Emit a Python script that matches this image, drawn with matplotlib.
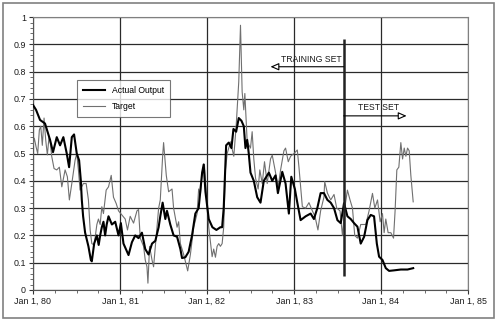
import matplotlib
matplotlib.use("Agg")
import matplotlib.pyplot as plt
from matplotlib.patches import Rectangle
from matplotlib.ticker import MultipleLocator

plt.rcParams["font.family"] = ["Liberation Sans", "DejaVu Sans"]

# Network output, time in years since Jan 1, 1980
actual_t = [0.000, 0.035, 0.081, 0.138, 0.196, 0.230, 0.273, 0.311, 0.349, 0.388,
            0.415, 0.446, 0.472, 0.503, 0.530, 0.550, 0.561, 0.576, 0.599, 0.637,
            0.665, 0.676, 0.703, 0.734, 0.755, 0.772, 0.791, 0.810, 0.829, 0.847,
            0.868, 0.907, 0.945, 0.983, 1.010, 1.040, 1.098, 1.137, 1.175, 1.213,
            1.252, 1.290, 1.328, 1.368, 1.406, 1.444, 1.463, 1.490, 1.521, 1.540,
            1.578, 1.616, 1.656, 1.694, 1.713, 1.751, 1.789, 1.828, 1.866, 1.904,
            1.944, 1.962, 1.982, 2.020, 2.062, 2.108, 2.154, 2.174, 2.192, 2.220,
            2.250, 2.281, 2.304, 2.335, 2.365, 2.396, 2.423, 2.442, 2.462, 2.480,
            2.500, 2.538, 2.577, 2.615, 2.653, 2.711, 2.750, 2.788, 2.815, 2.865,
            2.903, 2.941, 2.969, 3.010, 3.038, 3.076, 3.134, 3.191, 3.229, 3.268,
            3.306, 3.344, 3.384, 3.422, 3.460, 3.499, 3.537, 3.575, 3.614, 3.652,
            3.690, 3.729, 3.767, 3.806, 3.844, 3.882, 3.920, 3.952, 3.978, 4.017,
            4.055, 4.093, 4.151, 4.228, 4.305, 4.370]
actual_v = [0.678, 0.66, 0.623, 0.61, 0.55, 0.505, 0.56, 0.53, 0.56, 0.50,
            0.45, 0.56, 0.57, 0.50, 0.475, 0.40, 0.33, 0.27, 0.21, 0.16,
            0.11, 0.105, 0.17, 0.20, 0.165, 0.20, 0.23, 0.25, 0.20, 0.24,
            0.27, 0.24, 0.25, 0.20, 0.245, 0.17, 0.128, 0.175, 0.20, 0.19,
            0.21, 0.15, 0.13, 0.17, 0.18, 0.23, 0.27, 0.32, 0.26, 0.29,
            0.24, 0.20, 0.195, 0.15, 0.117, 0.12, 0.14, 0.20, 0.28, 0.30,
            0.43, 0.46, 0.36, 0.26, 0.23, 0.22, 0.23, 0.23, 0.30, 0.53,
            0.54, 0.52, 0.59, 0.58, 0.63, 0.62, 0.60, 0.52, 0.55, 0.50,
            0.43, 0.40, 0.34, 0.32, 0.40, 0.43, 0.40, 0.42, 0.355, 0.433,
            0.39, 0.28, 0.415, 0.37, 0.32, 0.256, 0.27, 0.28, 0.26, 0.30,
            0.355, 0.355, 0.33, 0.32, 0.30, 0.256, 0.245, 0.318, 0.27, 0.26,
            0.245, 0.232, 0.17, 0.195, 0.256, 0.275, 0.27, 0.17, 0.122, 0.11,
            0.08, 0.07, 0.072, 0.075, 0.075, 0.08]

# Target series, time in years since Jan 1, 1980
target_t = [0.000, 0.015, 0.035, 0.054, 0.073, 0.089, 0.107, 0.127, 0.146, 0.165,
            0.184, 0.196, 0.215, 0.242, 0.273, 0.303, 0.331, 0.369, 0.395, 0.418,
            0.446, 0.484, 0.503, 0.522, 0.541, 0.579, 0.611, 0.637, 0.657, 0.676,
            0.703, 0.734, 0.752, 0.772, 0.791, 0.810, 0.841, 0.868, 0.899, 0.925,
            0.956, 0.983, 1.022, 1.060, 1.086, 1.117, 1.156, 1.195, 1.213, 1.233,
            1.271, 1.290, 1.310, 1.321, 1.340, 1.368, 1.386, 1.406, 1.444, 1.463,
            1.490, 1.501, 1.532, 1.559, 1.598, 1.616, 1.656, 1.674, 1.694, 1.732,
            1.763, 1.778, 1.809, 1.847, 1.886, 1.904, 1.924, 1.944, 1.970, 2.001,
            2.020, 2.059, 2.077, 2.097, 2.116, 2.135, 2.154, 2.174, 2.192, 2.212,
            2.232, 2.270, 2.308, 2.335, 2.365, 2.385, 2.404, 2.423, 2.435, 2.462,
            2.500, 2.519, 2.538, 2.558, 2.588, 2.607, 2.635, 2.661, 2.692, 2.730,
            2.750, 2.788, 2.819, 2.846, 2.884, 2.903, 2.934, 2.961, 3.000, 3.038,
            3.057, 3.096, 3.134, 3.172, 3.211, 3.241, 3.275, 3.306, 3.344, 3.353,
            3.384, 3.422, 3.460, 3.491, 3.529, 3.557, 3.583, 3.614, 3.644, 3.672,
            3.698, 3.729, 3.767, 3.825, 3.863, 3.902, 3.929, 3.960, 3.990, 4.017,
            4.036, 4.055, 4.082, 4.113, 4.144, 4.162, 4.182, 4.205, 4.228, 4.248,
            4.267, 4.286, 4.305, 4.324, 4.343, 4.370]
target_v = [0.53, 0.556, 0.525, 0.50, 0.586, 0.60, 0.53, 0.63, 0.55, 0.495,
            0.56, 0.55, 0.49, 0.445, 0.44, 0.45, 0.378, 0.44, 0.415, 0.33,
            0.39, 0.476, 0.50, 0.44, 0.366, 0.39, 0.39, 0.33, 0.22, 0.17,
            0.165, 0.24, 0.26, 0.24, 0.305, 0.28, 0.366, 0.378, 0.42, 0.34,
            0.317, 0.29, 0.275, 0.26, 0.22, 0.27, 0.245, 0.29, 0.295, 0.19,
            0.16, 0.11, 0.085, 0.025, 0.16, 0.11, 0.085, 0.16, 0.30, 0.33,
            0.49, 0.54, 0.42, 0.36, 0.37, 0.30, 0.23, 0.25, 0.17, 0.13,
            0.09, 0.07, 0.13, 0.23, 0.28, 0.37, 0.35, 0.43, 0.46, 0.317,
            0.23, 0.122, 0.15, 0.12, 0.16, 0.17, 0.16, 0.17, 0.23, 0.44,
            0.50, 0.543, 0.49, 0.60, 0.763, 0.97, 0.726, 0.66, 0.72, 0.543,
            0.52, 0.58, 0.48, 0.41, 0.37, 0.44, 0.39, 0.47, 0.39, 0.48,
            0.494, 0.43, 0.38, 0.44, 0.51, 0.52, 0.47, 0.49, 0.50, 0.513,
            0.45, 0.305, 0.30, 0.32, 0.29, 0.27, 0.22, 0.29, 0.34, 0.397,
            0.355, 0.33, 0.35, 0.30, 0.29, 0.20, 0.30, 0.366, 0.33, 0.30,
            0.20, 0.19, 0.24, 0.24, 0.29, 0.354, 0.30, 0.33, 0.25, 0.28,
            0.21, 0.26, 0.21, 0.21, 0.19, 0.29, 0.44, 0.45, 0.54, 0.48,
            0.52, 0.49, 0.52, 0.51, 0.42, 0.323]

year_ticks = [0, 1, 2, 3, 4, 5]
year_labels = ["Jan 1, 80", "Jan 1, 81", "Jan 1, 82", "Jan 1, 83", "Jan 1, 84", "Jan 1, 85"]
split_year = 3.571          # boundary between training and test periods
split_span = [0.05, 0.92]

fig = plt.figure(figsize=(5.0, 3.22), dpi=100)
fig.patches.append(Rectangle((0.006, 0.012), 0.982, 0.979, transform=fig.transFigure,
                             fill=False, edgecolor="#808080", linewidth=1.2))
ax = fig.add_axes([0.066, 0.0994, 0.870, 0.8476])

ax.plot(target_t, target_v, color="#707070", linewidth=0.8, label="Target", zorder=3)
ax.plot(actual_t, actual_v, color="black", linewidth=1.5, label="Actual Output", zorder=4)

ax.set_xlim(0, 5)
ax.set_ylim(0, 1)
ax.set_xticks(year_ticks)
ax.set_xticklabels(year_labels)
ax.set_yticks([i / 10 for i in range(11)])
ax.set_yticklabels(["0", "0.1", "0.2", "0.3", "0.4", "0.5", "0.6", "0.7", "0.8", "0.9", "1"])
ax.xaxis.set_minor_locator(MultipleLocator(0.25))
ax.yaxis.set_minor_locator(MultipleLocator(0.02))
ax.tick_params(axis="both", which="major", labelsize=6.4, length=3, width=0.8,
               colors="#333333", labelcolor="#1a1a1a", pad=2)
ax.tick_params(axis="both", which="minor", length=2, width=0.6, colors="#555555")
ax.grid(True, which="major", color="#2a2a2a", linewidth=0.9)
ax.set_axisbelow(True)
for side in ("top", "right"):
    ax.spines[side].set_color("#808080")
for side in ("left", "bottom"):
    ax.spines[side].set_color("#555555")

ax.vlines(split_year, split_span[0], split_span[1], color="#222222", linewidth=1.8, zorder=5)

arrow_style = dict(arrowstyle="-|>,head_length=0.5,head_width=0.22", color="black",
                   linewidth=0.8, shrinkA=0, shrinkB=0, fc="white")
ax.annotate("", xy=(2.73, 0.818), xytext=(split_year, 0.818), arrowprops=arrow_style, zorder=6)
ax.annotate("", xy=(4.294, 0.638), xytext=(split_year, 0.638), arrowprops=arrow_style, zorder=6)
ax.text(3.548, 0.846, "TRAINING SET", fontsize=6.2, ha="right", va="center", color="#1a1a1a")
ax.text(3.975, 0.668, "TEST SET", fontsize=6.2, ha="center", va="center", color="#1a1a1a")

handles, labels = ax.get_legend_handles_labels()
leg = ax.legend(handles[::-1], labels[::-1], loc="upper left", bbox_to_anchor=(0.101, 0.768),
                fontsize=6.2, frameon=True, fancybox=False, handlelength=2.6,
                borderpad=0.7, labelspacing=0.8, handletextpad=0.8, borderaxespad=0)
leg.get_frame().set_edgecolor("#555555")
leg.get_frame().set_linewidth(0.8)

fig.savefig("out.png", dpi=100)
